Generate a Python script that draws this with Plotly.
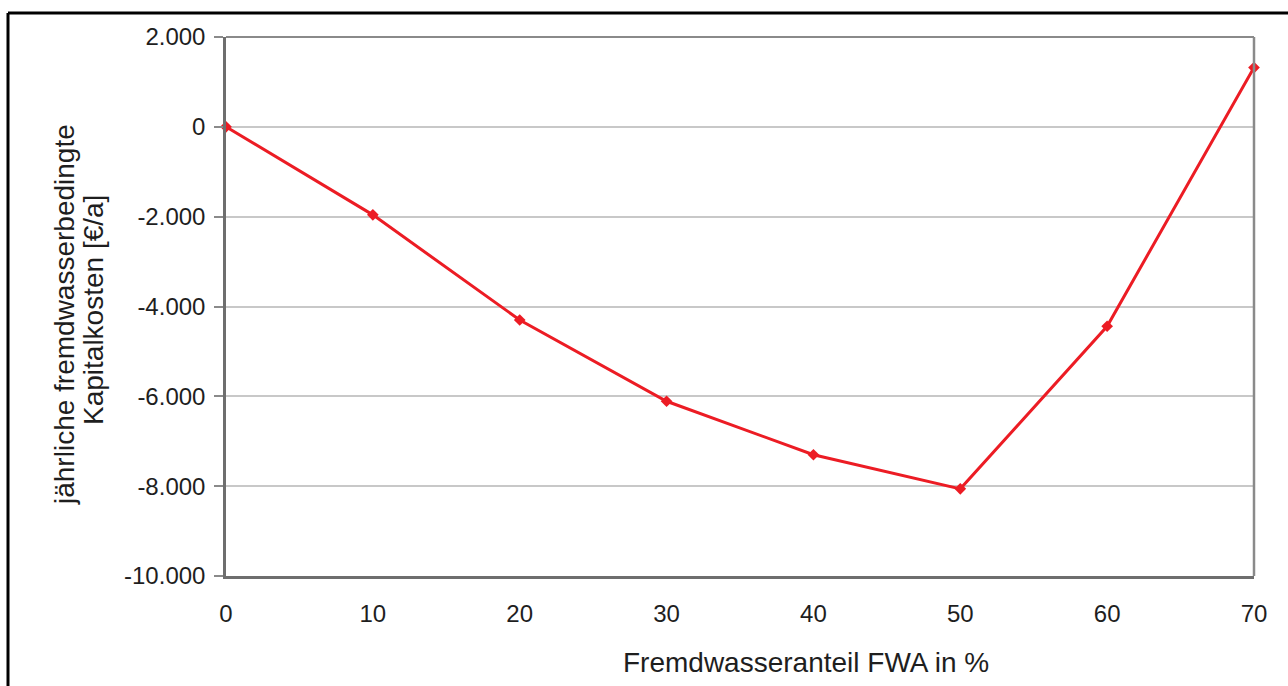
import plotly.graph_objects as go

x_vals = [0, 10, 20, 30, 40, 50, 60, 70]
y_vals = [0, -1960, -4300, -6110, -7300, -8060, -4440, 1320]
y_ticks = [2000, 0, -2000, -4000, -6000, -8000, -10000]
y_tick_labels = ["2.000", "0", "-2.000", "-4.000", "-6.000", "-8.000", "-10.000"]
x_ticks = [0, 10, 20, 30, 40, 50, 60, 70]
x_title = "Fremdwasseranteil FWA in %"
y_title_lines = ["jährliche fremdwasserbedingte", "Kapitalkosten [€/a]"]

W, H = 1288, 686
L, R, T, B = 226, 34, 37, 110
pw, ph = W - L - R, H - T - B

def px(xp):
    return (xp - L) / pw

def py(yp):
    return (H - B - yp) / ph

fig = go.Figure()
fig.add_trace(go.Scatter(
    x=x_vals, y=y_vals, mode="lines+markers",
    line=dict(color="#ec1c24", width=3),
    marker=dict(symbol="diamond", size=9, color="#ec1c24"),
    showlegend=False, cliponaxis=False,
))

font_fam = "Liberation Sans, Arial, sans-serif"
txt = "#1e1e1e"
fig.update_layout(
    width=W, height=H,
    margin=dict(l=L, r=R, t=T, b=B),
    paper_bgcolor="white", plot_bgcolor="white",
    font=dict(family=font_fam, size=24, color=txt),
    xaxis=dict(
        range=[0, 70], tickvals=x_ticks, ticks="", showgrid=False,
        zeroline=False, showline=True, linecolor="#6e6e6e", linewidth=2.5,
        tickfont=dict(size=24, color=txt),
        ticklabelstandoff=14,
    ),
    yaxis=dict(
        range=[-10000, 2000], tickvals=y_ticks, ticktext=y_tick_labels,
        ticks="outside", ticklen=9, tickcolor="#8a8a8a", tickwidth=1.5,
        showgrid=True, gridcolor="#c8c8c8", gridwidth=2,
        zeroline=False, showline=True, linecolor="#6e6e6e", linewidth=2.5,
        tickfont=dict(size=24, color=txt),
        ticklabelstandoff=4,
    ),
    annotations=[
        dict(text=x_title, xref="paper", yref="paper", x=px(806), y=py(662),
             showarrow=False, xanchor="center", yanchor="middle",
             font=dict(size=28, color=txt)),
        dict(text=y_title_lines[0], xref="paper", yref="paper", x=px(64), y=py(315),
             showarrow=False, xanchor="center", yanchor="middle", textangle=-90,
             font=dict(size=28, color=txt)),
        dict(text=y_title_lines[1], xref="paper", yref="paper", x=px(93), y=py(310),
             showarrow=False, xanchor="center", yanchor="middle", textangle=-90,
             font=dict(size=28, color=txt)),
    ],
    shapes=[
        dict(type="line", xref="paper", yref="paper", x0=0, x1=1, y0=1, y1=1,
             line=dict(color="#8a8a8a", width=2)),
        dict(type="line", xref="paper", yref="paper", x0=1, x1=1, y0=0, y1=1,
             line=dict(color="#8a8a8a", width=2.5)),
        dict(type="line", xref="paper", yref="paper",
             x0=px(8), x1=px(8), y0=py(H + 5), y1=py(13),
             line=dict(color="black", width=3)),
        dict(type="line", xref="paper", yref="paper",
             x0=px(8), x1=px(W + 5), y0=py(13), y1=py(13),
             line=dict(color="black", width=3)),
    ],
)

fig.write_html("out.html", config={"displayModeBar": False},
               post_script="document.body.style.margin='0';document.body.style.overflow='hidden';")
